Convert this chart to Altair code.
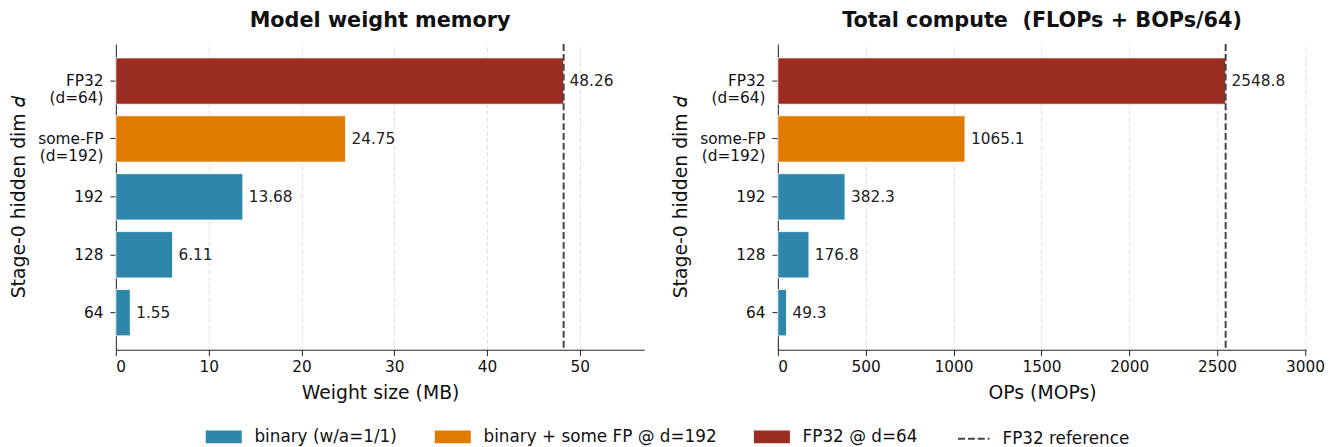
import altair as alt
import pandas as pd

categories = ["FP32\n(d=64)", "some-FP\n(d=192)", "192", "128", "64"]
groups = ["FP32 @ d=64", "binary + some FP @ d=192",
          "binary (w/a=1/1)", "binary (w/a=1/1)", "binary (w/a=1/1)"]
memory_mb = [48.26, 24.75, 13.68, 6.11, 1.55]
compute_mops = [2548.8, 1065.1, 382.3, 176.8, 49.3]
memory_labels = ["48.26", "24.75", "13.68", "6.11", "1.55"]
compute_labels = ["2548.8", "1065.1", "382.3", "176.8", "49.3"]

legend_order = ["binary (w/a=1/1)", "binary + some FP @ d=192", "FP32 @ d=64"]
legend_colors = ["#2E86AB", "#E07B00", "#9B2D22"]
ref_name = ["FP32 reference"]

mem_ref = [48.26]
comp_ref = [2548.8]

FONT = "DejaVu Sans"

color_scale = alt.Scale(domain=legend_order, range=legend_colors)


def panel(values, labels, ref, title, xtitle, xmax, ticks, show_legend):
    df = pd.DataFrame({"cat": categories, "group": groups, "v": values, "lab": labels})
    rdf = pd.DataFrame({"r": ref, "name": ref_name})
    xs = alt.Scale(domain=[0, xmax], nice=False, zero=True)
    ys = alt.Scale(domain=categories, paddingInner=0.2, paddingOuter=0.24)
    bars = alt.Chart(df).mark_bar(stroke="white", strokeWidth=0.8).encode(
        x=alt.X("v:Q", scale=xs, title=xtitle,
                axis=alt.Axis(values=ticks, format="d", grid=True, gridDash=[4, 3],
                              gridColor="#dddddd", gridWidth=1, domainColor="#222222",
                              tickColor="#222222", labelFontSize=15.5, titleFontSize=19,
                              titleFontWeight="normal", labelColor="#111111",
                              titleColor="#111111", tickSize=6, labelPadding=4,
                              titlePadding=9, zindex=0)),
        y=alt.Y("cat:N", scale=ys, sort=categories, title="Stage-0 hidden dim 𝑑",
                axis=alt.Axis(labelExpr="split(datum.label, '\\n')", labelFontSize=15.5,
                              titleFontSize=19, titleFontWeight="normal",
                              labelColor="#111111", titleColor="#111111",
                              domainColor="#222222", tickColor="#222222", tickSize=6,
                              labelPadding=7, titlePadding=9, labelLineHeight=17,
                              zindex=0)),
        color=alt.Color("group:N", scale=color_scale,
                        legend=alt.Legend(title=None, orient="none", direction="horizontal",
                                          legendX=96, legendY=384,
                                          symbolType="M-1.4,-0.5H1.4V0.5H-1.4Z",
                                          symbolSize=676, symbolStrokeWidth=0, labelFontSize=17,
                                          symbolOpacity=1, columnPadding=36.5, labelOffset=18,
                                          labelLimit=500, labelColor="#111111", padding=0)
                        if show_legend else None),
    )
    text = alt.Chart(df).mark_text(align="left", baseline="middle", dx=6, fontSize=15.5,
                                   color="#222222", font=FONT).encode(
        x=alt.X("v:Q", scale=xs), y=alt.Y("cat:N", scale=ys, sort=categories), text="lab:N")
    rule = alt.Chart(rdf).mark_rule(strokeWidth=2, color="#444444").encode(
        x=alt.X("r:Q", scale=xs),
        strokeDash=alt.StrokeDash("name:N", scale=alt.Scale(domain=ref_name, range=[[7, 3]]),
                                  legend=alt.Legend(title=None, orient="none", legendX=850,
                                                    legendY=382, symbolType="stroke",
                                                    symbolStrokeColor="#444444", symbolSize=1014,
                                                    symbolDash=[9, 4],
                                                    symbolStrokeWidth=2, labelFontSize=17,
                                                    labelOffset=12, labelColor="#111111",
                                                    labelLimit=500, padding=0)
                                  if show_legend else None))
    return alt.layer(bars, rule, text).properties(
        width=534, height=309,
        title=alt.TitleParams(title, fontSize=21, fontWeight="bold", font=FONT,
                              color="#111111", offset=12))


left = panel(memory_mb, memory_labels, mem_ref, "Model weight memory", "Weight size (MB)",
             56.95, [0, 10, 20, 30, 40, 50], True)
right = panel(compute_mops, compute_labels, comp_ref, "Total compute \u00a0(FLOPs + BOPs/64)",
              "OPs (MOPs)", 3007.6, [0, 500, 1000, 1500, 2000, 2500, 3000], True)

chart = alt.hconcat(left, right, spacing=27).resolve_scale(x="independent").configure(
    font=FONT, padding={"left": 1, "top": 0, "right": 5, "bottom": 5}
).configure_view(stroke=None).configure_axisY(domain=True)

chart.save("out.html", embed_options={"renderer": "svg", "actions": False})
